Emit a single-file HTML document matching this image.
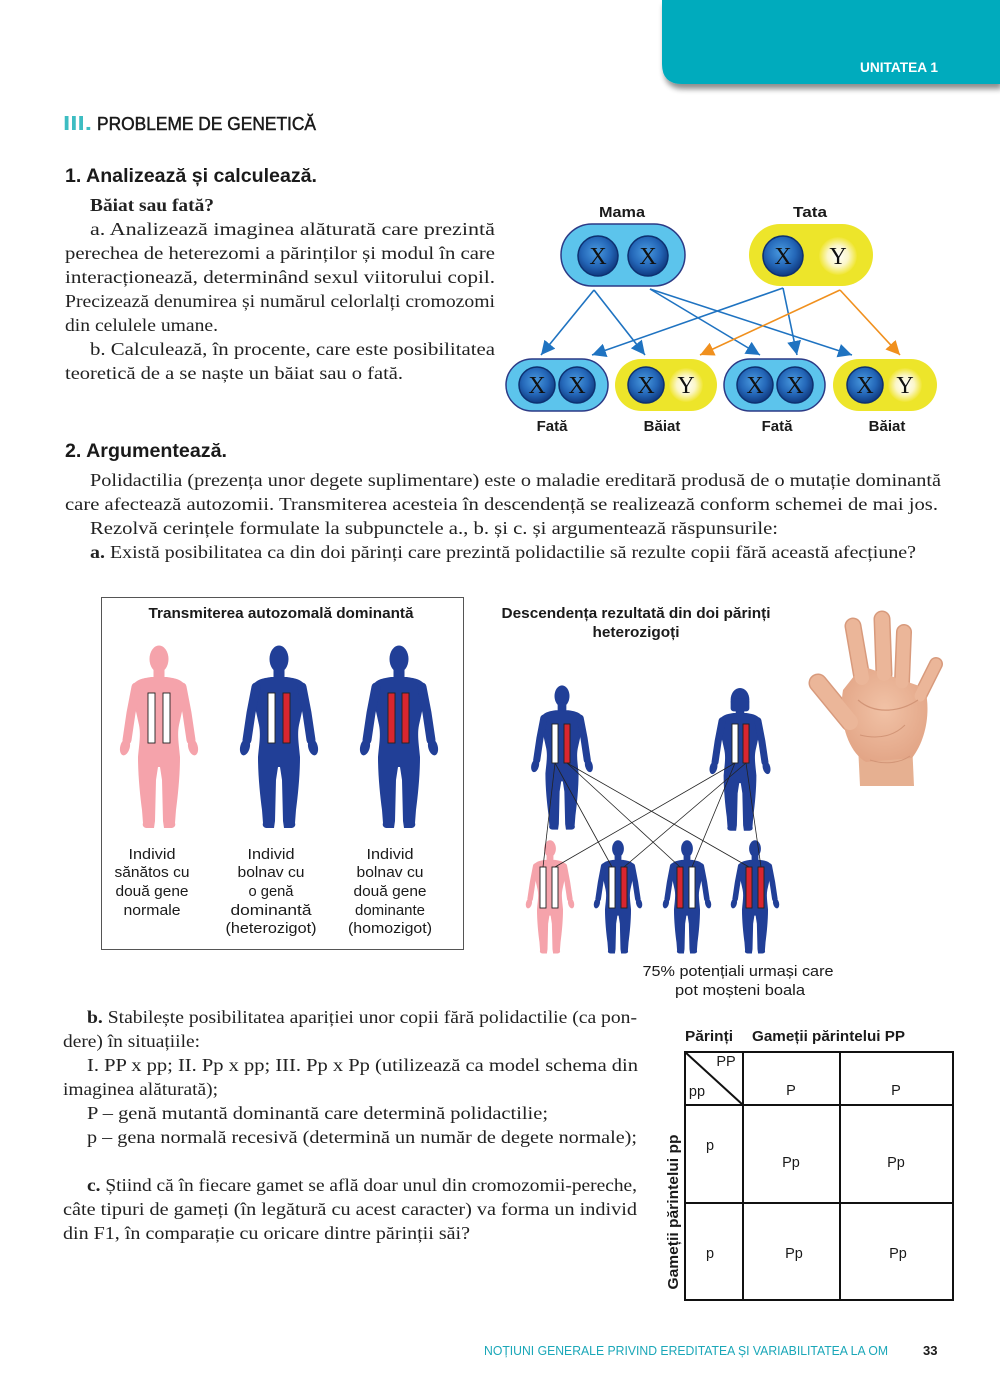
<!DOCTYPE html>
<html><head><meta charset="utf-8">
<style>html,body{margin:0;padding:0;background:#fff}svg{display:block}</style>
</head><body>
<svg width="1000" height="1390" viewBox="0 0 1000 1390" xmlns="http://www.w3.org/2000/svg">
<defs>
  <filter id="sh" x="-10%" y="-20%" width="130%" height="160%">
    <feGaussianBlur in="SourceAlpha" stdDeviation="3"/>
    <feOffset dx="2" dy="5" result="b"/>
    <feComponentTransfer><feFuncA type="linear" slope="0.45"/></feComponentTransfer>
    <feMerge><feMergeNode/><feMergeNode in="SourceGraphic"/></feMerge>
  </filter>
  <radialGradient id="cx" cx="45%" cy="40%" r="60%">
    <stop offset="0" stop-color="#4a9be0"/>
    <stop offset="0.6" stop-color="#2467b8"/>
    <stop offset="1" stop-color="#0f3a80"/>
  </radialGradient>
  <radialGradient id="cy" cx="50%" cy="50%" r="50%">
    <stop offset="0" stop-color="#ffffff"/>
    <stop offset="0.55" stop-color="#fbf6c8"/>
    <stop offset="1" stop-color="#f0e632"/>
  </radialGradient>
  <radialGradient id="skin" cx="50%" cy="45%" r="60%">
    <stop offset="0" stop-color="#f1c2a6"/>
    <stop offset="1" stop-color="#e2a485"/>
  </radialGradient>
  <marker id="ab" markerWidth="14" markerHeight="14" refX="14" refY="7" orient="auto" markerUnits="userSpaceOnUse">
    <path d="M0,0 L14,7 L0,14 Z" fill="#1f73c1"/>
  </marker>
  <marker id="ao" markerWidth="14" markerHeight="14" refX="14" refY="7" orient="auto" markerUnits="userSpaceOnUse">
    <path d="M0,0 L14,7 L0,14 Z" fill="#f0901e"/>
  </marker>
  <g id="fig">
    <ellipse cx="0" cy="14" rx="9.5" ry="13.5" fill="currentColor"/>
    <rect x="-5.5" y="22" width="11" height="14" fill="currentColor"/>
    <path fill="currentColor" d="M -8,32 C -14,33 -22,34 -25,39 C -27,44 -26,55 -24,62 L -20,80 C -18,90 -20,100 -21,112 C -21,130 -19,150 -17,165 L -16,178 C -17,181 -15,183 -12,183 L -5,183 L -4,176 L -3,135 L -1,122 L 1,122 L 3,135 L 4,176 L 5,183 L 12,183 C 15,183 17,181 16,178 L 17,165 C 19,150 21,130 21,112 C 20,100 18,90 20,80 L 24,62 C 26,55 27,44 25,39 C 22,34 14,33 8,32 Z"/>
    <path d="M -23,42 L -28,68 L -32,95" fill="none" stroke="currentColor" stroke-width="9" stroke-linecap="round" stroke-linejoin="round"/>
    <path d="M 23,42 L 28,68 L 32,95" fill="none" stroke="currentColor" stroke-width="9" stroke-linecap="round" stroke-linejoin="round"/>
    <ellipse cx="-34" cy="102" rx="4.8" ry="8.5" transform="rotate(14 -34 102)" fill="currentColor"/>
    <ellipse cx="34" cy="102" rx="4.8" ry="8.5" transform="rotate(-14 34 102)" fill="currentColor"/>
  </g>
  <g id="wom">
    <use href="#fig"/>
    <ellipse cx="0" cy="15" rx="12" ry="15" fill="currentColor"/>
    <rect x="-12" y="14" width="24" height="16" rx="4" fill="currentColor"/>
  </g>
</defs>

<!-- header tab -->
<path d="M662,0 L1000,0 L1000,84 L682,84 Q662,84 662,64 Z" fill="#02abbd" filter="url(#sh)"/>
<text x="860" y="72" font-family="Liberation Sans, sans-serif" font-weight="bold" font-size="14" fill="#fff" textLength="78" lengthAdjust="spacingAndGlyphs">UNITATEA 1</text>

<!-- headings -->
<text x="63" y="130" font-family="Liberation Sans, sans-serif" font-weight="bold" font-size="20" fill="#3dbdc2" textLength="29" lengthAdjust="spacingAndGlyphs">III.</text>
<text x="97" y="130" font-family="Liberation Sans, sans-serif" font-size="18.5" fill="#1a1a1a" stroke="#1a1a1a" stroke-width="0.5" textLength="219" lengthAdjust="spacingAndGlyphs">PROBLEME DE GENETICĂ</text>
<text x="65" y="182" font-family="Liberation Sans, sans-serif" font-weight="bold" font-size="19" fill="#1a1a1a" textLength="252" lengthAdjust="spacingAndGlyphs">1. Analizează și calculează.</text>

<g font-family="Liberation Serif, serif" font-size="18" fill="#222">
  <text x="90" y="211" font-weight="bold" textLength="124" lengthAdjust="spacingAndGlyphs">Băiat sau fată?</text>
  <text x="90" y="235" textLength="405" lengthAdjust="spacingAndGlyphs">a. Analizează imaginea alăturată care prezintă</text>
  <text x="65" y="259" textLength="430" lengthAdjust="spacingAndGlyphs">perechea de heterezomi a părinților și modul în care</text>
  <text x="65" y="283" textLength="430" lengthAdjust="spacingAndGlyphs">interacționează, determinând sexul viitorului copil.</text>
  <text x="65" y="307" textLength="430" lengthAdjust="spacingAndGlyphs">Precizează denumirea și numărul celorlalți cromozomi</text>
  <text x="65" y="331" textLength="153" lengthAdjust="spacingAndGlyphs">din celulele umane.</text>
  <text x="90" y="355" textLength="405" lengthAdjust="spacingAndGlyphs">b. Calculează, în procente, care este posibilitatea</text>
  <text x="65" y="379" textLength="338" lengthAdjust="spacingAndGlyphs">teoretică de a se naște un băiat sau o fată.</text>
</g>

<!-- chromosome diagram -->
<g font-family="Liberation Sans, sans-serif" font-weight="bold" font-size="15" fill="#1a1a1a" text-anchor="middle">
  <text x="622" y="217" textLength="46" lengthAdjust="spacingAndGlyphs">Mama</text>
  <text x="810" y="217" textLength="34" lengthAdjust="spacingAndGlyphs">Tata</text>
  <text x="552" y="431">Fată</text>
  <text x="662" y="431">Băiat</text>
  <text x="777" y="431">Fată</text>
  <text x="887" y="431">Băiat</text>
</g>
<rect x="561" y="224" width="124" height="62" rx="31" fill="#5cc4ec" stroke="#2c3a86" stroke-width="1.5"/>
<rect x="749" y="224" width="124" height="62" rx="31" fill="#ede52a"/>
<rect x="506" y="359" width="102" height="52" rx="26" fill="#5cc4ec" stroke="#2c3a86" stroke-width="1.5"/>
<rect x="615" y="359" width="102" height="52" rx="26" fill="#ede52a"/>
<rect x="724" y="359" width="101" height="52" rx="26" fill="#5cc4ec" stroke="#2c3a86" stroke-width="1.5"/>
<rect x="833" y="359" width="104" height="52" rx="26" fill="#ede52a"/>
<g stroke="#0d3070" stroke-width="1.5" fill="url(#cx)">
  <circle cx="598" cy="256" r="20"/>
  <circle cx="648" cy="256" r="20"/>
  <circle cx="783" cy="256" r="20"/>
  <circle cx="537" cy="385" r="18"/>
  <circle cx="577" cy="385" r="18"/>
  <circle cx="646" cy="385" r="18"/>
  <circle cx="755" cy="385" r="18"/>
  <circle cx="795" cy="385" r="18"/>
  <circle cx="865" cy="385" r="18"/>
</g>
<circle cx="838" cy="256" r="19" fill="url(#cy)"/>
<circle cx="686" cy="385" r="17" fill="url(#cy)"/>
<circle cx="905" cy="385" r="17" fill="url(#cy)"/>
<g font-family="Liberation Serif, serif" font-size="24" fill="#111" text-anchor="middle">
  <text x="598" y="264">X</text>
  <text x="648" y="264">X</text>
  <text x="783" y="264">X</text>
  <text x="838" y="264">Y</text>
  <text x="537" y="393">X</text>
  <text x="577" y="393">X</text>
  <text x="646" y="393">X</text>
  <text x="686" y="393">Y</text>
  <text x="755" y="393">X</text>
  <text x="795" y="393">X</text>
  <text x="865" y="393">X</text>
  <text x="905" y="393">Y</text>
</g>
<g stroke="#1f73c1" stroke-width="1.6" fill="none">
  <line x1="594" y1="290" x2="541" y2="355" marker-end="url(#ab)"/>
  <line x1="594" y1="290" x2="645" y2="355" marker-end="url(#ab)"/>
  <line x1="650" y1="289" x2="760" y2="355" marker-end="url(#ab)"/>
  <line x1="650" y1="289" x2="852" y2="355" marker-end="url(#ab)"/>
  <line x1="783" y1="288" x2="592" y2="355" marker-end="url(#ab)"/>
  <line x1="783" y1="288" x2="797" y2="355" marker-end="url(#ab)"/>
</g>
<g stroke="#f0901e" stroke-width="1.6" fill="none">
  <line x1="840" y1="290" x2="700" y2="355" marker-end="url(#ao)"/>
  <line x1="840" y1="290" x2="900" y2="355" marker-end="url(#ao)"/>
</g>

<!-- section 2 -->
<text x="65" y="457" font-family="Liberation Sans, sans-serif" font-weight="bold" font-size="19" fill="#1a1a1a" textLength="162" lengthAdjust="spacingAndGlyphs">2. Argumentează.</text>
<g font-family="Liberation Serif, serif" font-size="18" fill="#222">
  <text x="90" y="486" textLength="851" lengthAdjust="spacingAndGlyphs">Polidactilia (prezența unor degete suplimentare) este o maladie ereditară produsă de o mutație dominantă</text>
  <text x="65" y="510" textLength="873" lengthAdjust="spacingAndGlyphs">care afectează autozomii. Transmiterea acesteia în descendență se realizează conform schemei de mai jos.</text>
  <text x="90" y="534" textLength="688" lengthAdjust="spacingAndGlyphs">Rezolvă cerințele formulate la subpunctele a., b. și c. și argumentează răspunsurile:</text>
  <text x="90" y="558" textLength="826" lengthAdjust="spacingAndGlyphs"><tspan font-weight="bold">a.</tspan> Există posibilitatea ca din doi părinți care prezintă polidactilie  să rezulte copii fără această afecțiune?</text>
</g>

<!-- left box -->
<rect x="101.5" y="597.5" width="362" height="352" fill="none" stroke="#555" stroke-width="1"/>
<text x="281" y="618" font-family="Liberation Sans, sans-serif" font-weight="bold" font-size="14.5" fill="#1a1a1a" text-anchor="middle" textLength="265" lengthAdjust="spacingAndGlyphs">Transmiterea autozomală dominantă</text>
<use href="#fig" transform="translate(159,645)" style="color:#f5a3ab"/>
<use href="#fig" transform="translate(279,645)" style="color:#213f97"/>
<use href="#fig" transform="translate(399,645)" style="color:#213f97"/>
<g stroke="#222" stroke-width="0.9">
  <rect x="148" y="693" width="7" height="50" fill="#fff"/>
  <rect x="163" y="693" width="7" height="50" fill="#fff"/>
  <rect x="268" y="693" width="7" height="50" fill="#fff"/>
  <rect x="283" y="693" width="7" height="50" fill="#d9262f"/>
  <rect x="388" y="693" width="7" height="50" fill="#d9262f"/>
  <rect x="402" y="693" width="7" height="50" fill="#d9262f"/>
</g>
<g font-family="Liberation Sans, sans-serif" font-size="14.5" fill="#1a1a1a" text-anchor="middle" lengthAdjust="spacingAndGlyphs">
  <text x="152" y="859" textLength="47" lengthAdjust="spacingAndGlyphs">Individ</text>
  <text x="152" y="877" textLength="75" lengthAdjust="spacingAndGlyphs">sănătos cu</text>
  <text x="152" y="896" textLength="73" lengthAdjust="spacingAndGlyphs">două gene</text>
  <text x="152" y="915" textLength="57" lengthAdjust="spacingAndGlyphs">normale</text>
  <text x="271" y="859" textLength="47" lengthAdjust="spacingAndGlyphs">Individ</text>
  <text x="271" y="877" textLength="67" lengthAdjust="spacingAndGlyphs">bolnav cu</text>
  <text x="271" y="896" textLength="45" lengthAdjust="spacingAndGlyphs">o genă</text>
  <text x="271" y="915" textLength="81" lengthAdjust="spacingAndGlyphs">dominantă</text>
  <text x="271" y="933" textLength="91" lengthAdjust="spacingAndGlyphs">(heterozigot)</text>
  <text x="390" y="859" textLength="47" lengthAdjust="spacingAndGlyphs">Individ</text>
  <text x="390" y="877" textLength="67" lengthAdjust="spacingAndGlyphs">bolnav cu</text>
  <text x="390" y="896" textLength="73" lengthAdjust="spacingAndGlyphs">două gene</text>
  <text x="390" y="915" textLength="70" lengthAdjust="spacingAndGlyphs">dominante</text>
  <text x="390" y="933" textLength="84" lengthAdjust="spacingAndGlyphs">(homozigot)</text>
</g>

<!-- descendants -->
<g font-family="Liberation Sans, sans-serif" font-weight="bold" font-size="14.5" fill="#1a1a1a" text-anchor="middle">
  <text x="636" y="618" textLength="269" lengthAdjust="spacingAndGlyphs">Descendența rezultată din doi părinți</text>
  <text x="636" y="637" textLength="87" lengthAdjust="spacingAndGlyphs">heterozigoți</text>
</g>
<use href="#fig" transform="translate(562,685) scale(0.79)" style="color:#213f97"/>
<use href="#wom" transform="translate(740,688) scale(0.78)" style="color:#213f97"/>
<use href="#fig" transform="translate(550,840) scale(0.62)" style="color:#f5a3ab"/>
<use href="#fig" transform="translate(618,840) scale(0.62)" style="color:#213f97"/>
<use href="#fig" transform="translate(687,840) scale(0.62)" style="color:#213f97"/>
<use href="#fig" transform="translate(755,840) scale(0.62)" style="color:#213f97"/>
<g stroke="#222" stroke-width="0.9">
  <rect x="552" y="724" width="6" height="39" fill="#fff"/>
  <rect x="564" y="724" width="6" height="39" fill="#d9262f"/>
  <rect x="732" y="724" width="6" height="39" fill="#fff"/>
  <rect x="743" y="724" width="6" height="39" fill="#d9262f"/>
  <rect x="540" y="867" width="6" height="41" fill="#fff"/>
  <rect x="552" y="867" width="6" height="41" fill="#fff"/>
  <rect x="609" y="867" width="6" height="41" fill="#fff"/>
  <rect x="621" y="867" width="6" height="41" fill="#d9262f"/>
  <rect x="677" y="867" width="6" height="41" fill="#d9262f"/>
  <rect x="689" y="867" width="6" height="41" fill="#fff"/>
  <rect x="746" y="867" width="6" height="41" fill="#d9262f"/>
  <rect x="758" y="867" width="6" height="41" fill="#d9262f"/>
</g>
<g stroke="#222" stroke-width="0.8">
  <line x1="555" y1="763" x2="543" y2="867"/>
  <line x1="555" y1="763" x2="612" y2="867"/>
  <line x1="567" y1="763" x2="680" y2="867"/>
  <line x1="567" y1="763" x2="749" y2="867"/>
  <line x1="735" y1="763" x2="555" y2="867"/>
  <line x1="735" y1="763" x2="692" y2="867"/>
  <line x1="746" y1="763" x2="624" y2="867"/>
  <line x1="746" y1="763" x2="761" y2="867"/>
</g>
<g font-family="Liberation Sans, sans-serif" font-size="14.5" fill="#1a1a1a" text-anchor="middle">
  <text x="738" y="976" textLength="191" lengthAdjust="spacingAndGlyphs">75% potențiali urmași care</text>
  <text x="740" y="995" textLength="130" lengthAdjust="spacingAndGlyphs">pot moșteni boala</text>
</g>

<!-- hand -->
<g>
  <path d="M858,745 L912,742 L914,786 L860,786 Z" fill="#e6b091"/>
  <g stroke="#d89a7c" stroke-linecap="round" fill="none">
    <line x1="850" y1="722" x2="818" y2="683" stroke-width="19"/>
    <line x1="862" y1="678" x2="853" y2="626" stroke-width="17"/>
    <line x1="884" y1="674" x2="882" y2="619" stroke-width="17"/>
    <line x1="902" y1="682" x2="904" y2="632" stroke-width="16"/>
    <line x1="920" y1="696" x2="936" y2="664" stroke-width="14"/>
  </g>
  <path d="M843,690 C838,720 848,752 866,762 L912,758 C926,740 931,712 925,688 L862,666 Z" fill="url(#skin)"/>
  <g stroke="#ebb699" stroke-linecap="round" fill="none">
    <line x1="850" y1="722" x2="818" y2="683" stroke-width="16"/>
    <line x1="862" y1="678" x2="853" y2="626" stroke-width="14"/>
    <line x1="884" y1="674" x2="882" y2="619" stroke-width="14"/>
    <line x1="902" y1="682" x2="904" y2="632" stroke-width="13"/>
    <line x1="920" y1="696" x2="936" y2="664" stroke-width="11"/>
  </g>
  <path d="M858,700 C875,715 900,712 918,700" stroke="#d29577" stroke-width="1.2" fill="none"/>
  <path d="M860,735 C880,740 895,735 905,725" stroke="#d29577" stroke-width="1" fill="none"/>
  <path d="M870,760 C885,765 900,763 910,756" stroke="#d29577" stroke-width="1" fill="none"/>
</g>

<!-- b / c text -->
<g font-family="Liberation Serif, serif" font-size="18" fill="#222">
  <text x="87" y="1023" textLength="550" lengthAdjust="spacingAndGlyphs"><tspan font-weight="bold">b.</tspan> Stabilește posibilitatea apariției unor copii fără polidactilie (ca pon-</text>
  <text x="63" y="1047" textLength="137" lengthAdjust="spacingAndGlyphs">dere) în situațiile:</text>
  <text x="87" y="1071" textLength="551" lengthAdjust="spacingAndGlyphs">I. PP x pp; II. Pp x pp; III. Pp x Pp (utilizează ca model schema din</text>
  <text x="63" y="1095" textLength="155" lengthAdjust="spacingAndGlyphs">imaginea alăturată);</text>
  <text x="87" y="1119" textLength="461" lengthAdjust="spacingAndGlyphs">P – genă mutantă dominantă care determină polidactilie;</text>
  <text x="87" y="1143" textLength="550" lengthAdjust="spacingAndGlyphs">p – gena normală recesivă (determină un număr de degete normale);</text>
  <text x="87" y="1191" textLength="550" lengthAdjust="spacingAndGlyphs"><tspan font-weight="bold">c.</tspan> Știind că în fiecare gamet se află doar unul din cromozomii-pereche,</text>
  <text x="63" y="1215" textLength="574" lengthAdjust="spacingAndGlyphs">câte tipuri de gameți (în legătură cu acest caracter) va forma un individ</text>
  <text x="63" y="1239" textLength="407" lengthAdjust="spacingAndGlyphs">din F1, în comparație cu oricare dintre părinții săi?</text>
</g>

<!-- table -->
<g font-family="Liberation Sans, sans-serif" font-weight="bold" font-size="14.5" fill="#1a1a1a">
  <text x="685" y="1041" textLength="48" lengthAdjust="spacingAndGlyphs">Părinți</text>
  <text x="752" y="1041" textLength="153" lengthAdjust="spacingAndGlyphs">Gameții părintelui PP</text>
  <text transform="translate(678,1212) rotate(-90)" text-anchor="middle" textLength="155" lengthAdjust="spacingAndGlyphs">Gameții părintelui pp</text>
</g>
<g stroke="#111" stroke-width="2" fill="none">
  <rect x="685" y="1052" width="268" height="248"/>
  <line x1="743" y1="1052" x2="743" y2="1300"/>
  <line x1="840" y1="1052" x2="840" y2="1300"/>
  <line x1="685" y1="1105" x2="953" y2="1105"/>
  <line x1="685" y1="1203" x2="953" y2="1203"/>
  <line x1="685" y1="1052" x2="743" y2="1105"/>
</g>
<g font-family="Liberation Sans, sans-serif" font-size="14.5" fill="#1a1a1a" text-anchor="middle">
  <text x="726" y="1066">PP</text>
  <text x="697" y="1096">pp</text>
  <text x="791" y="1095">P</text>
  <text x="896" y="1095">P</text>
  <text x="710" y="1150">p</text>
  <text x="791" y="1167">Pp</text>
  <text x="896" y="1167">Pp</text>
  <text x="710" y="1258">p</text>
  <text x="794" y="1258">Pp</text>
  <text x="898" y="1258">Pp</text>
</g>

<!-- footer -->
<text x="484" y="1355" font-family="Liberation Sans, sans-serif" font-size="12.5" fill="#1aa7b8" textLength="404" lengthAdjust="spacingAndGlyphs">NOȚIUNI GENERALE PRIVIND EREDITATEA ȘI VARIABILITATEA LA OM</text>
<text x="923" y="1355" font-family="Liberation Sans, sans-serif" font-weight="bold" font-size="13" fill="#1a1a1a">33</text>
</svg>
</body></html>
